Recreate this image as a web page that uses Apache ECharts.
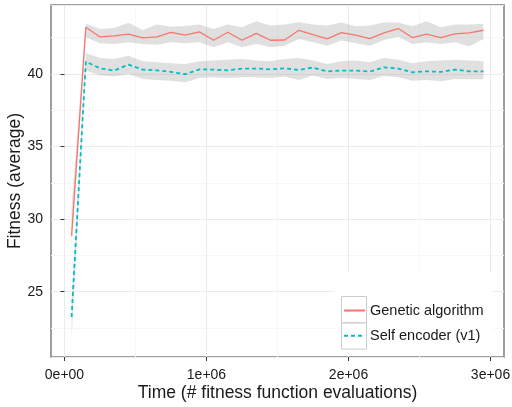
<!DOCTYPE html>
<html>
<head>
<meta charset="utf-8">
<script src="https://cdn.jsdelivr.net/npm/echarts@6/dist/echarts.min.js"></script>
<style>
	html, body { margin: 0; padding: 0; background: #fff; }
	#chart { width: 512px; height: 407px; }
</style>
</head>
<body>
<div id="chart"></div>
<script>
// evaluation counts (x)
var timePoints = [50000, 150000, 250000, 350000, 450000, 550000, 650000, 750000, 850000, 950000,
	1050000, 1150000, 1250000, 1350000, 1450000, 1550000, 1650000, 1750000, 1850000, 1950000,
	2050000, 2150000, 2250000, 2350000, 2450000, 2550000, 2650000, 2750000, 2850000, 2950000];

// Genetic algorithm
var gaMean = [28.85, 43.22, 42.55, 42.62, 42.74, 42.48, 42.55, 42.87, 42.67, 42.90,
	42.32, 42.87, 42.32, 42.80, 42.32, 42.34, 43.01, 42.71, 42.41, 42.85,
	42.67, 42.44, 42.83, 43.13, 42.51, 42.74, 42.51, 42.76, 42.83, 43.01];
var gaHigh = [30.80, 43.45, 43.10, 43.17, 43.52, 43.03, 43.40, 43.26, 43.31, 43.40,
	43.10, 43.40, 43.22, 43.63, 43.33, 43.40, 43.56, 43.40, 43.33, 43.54,
	43.29, 43.33, 43.54, 43.54, 43.29, 43.63, 43.22, 43.40, 43.40, 43.45];
var gaLow = [28.00, 42.53, 42.11, 42.07, 42.18, 42.07, 42.02, 42.18, 42.11, 42.18,
	41.84, 42.18, 41.84, 42.07, 41.84, 41.95, 42.41, 42.18, 41.95, 42.30,
	42.11, 41.95, 42.34, 42.57, 42.07, 42.18, 42.07, 42.18, 41.89, 42.41];

// Self encoder (v1)
var seMean = [23.26, 40.85, 40.39, 40.23, 40.64, 40.30, 40.25, 40.14, 39.98, 40.32,
	40.30, 40.25, 40.37, 40.37, 40.32, 40.39, 40.28, 40.44, 40.18, 40.23,
	40.23, 40.16, 40.46, 40.37, 40.11, 40.18, 40.14, 40.30, 40.18, 40.18];
var seHigh = [24.30, 41.43, 41.10, 41.03, 41.26, 40.87, 40.80, 40.74, 40.69, 40.87,
	40.92, 40.97, 41.03, 40.92, 40.87, 41.03, 41.10, 40.92, 40.69, 40.87,
	40.92, 40.80, 41.10, 40.97, 40.74, 40.87, 40.92, 40.97, 40.92, 40.87];
var seLow = [21.80, 40.23, 39.89, 39.82, 40.00, 39.66, 39.59, 39.54, 39.43, 39.72,
	39.77, 39.72, 39.77, 39.77, 39.72, 39.82, 39.59, 39.89, 39.66, 39.72,
	39.66, 39.59, 39.86, 39.77, 39.54, 39.59, 39.49, 39.66, 39.63, 39.63];

var xTicks = [0, 1000000, 2000000, 3000000];

var textColor = '#1a1a1a';
var fontFamily = '"Liberation Sans", Arial, sans-serif';

function pairs(ys){
	var out = [];
	for (var i = 0; i < timePoints.length; i++) {
		out.push([timePoints[i], ys[i]]);
	}
	return out;
}

// grey confidence band, drawn once as one polygon
function ribbon(low, high){
	var rows = [];
	for (var i = 0; i < timePoints.length; i++) {
		rows.push([timePoints[i], low[i], high[i]]);
	}
	return {
		type: 'custom',
		silent: true,
		z: 1,
		data: rows,
		encode: { x: 0, y: [1, 2] },
		renderItem: function(params, api){
			if (params.dataIndex !== 0) return;
			var pts = [];
			for (var i = 0; i < timePoints.length; i++) {
				pts.push(api.coord([timePoints[i], high[i]]));
			}
			for (var j = timePoints.length - 1; j >= 0; j--) {
				pts.push(api.coord([timePoints[j], low[j]]));
			}
			return {
				type: 'polygon',
				shape: { points: pts },
				style: { fill: 'rgba(153,153,153,0.3)' }
			};
		}
	};
}

function sci(v){
	if (v === 0) return '0e+00';
	return Math.round(v / 1e6) + 'e+06';
}

var chart = echarts.init(document.getElementById('chart'), null, { renderer: 'canvas' });

var option = {
	animation: false,
	backgroundColor: '#fff',
	textStyle: { fontFamily: fontFamily },
	grid: {
		left: 51, right: 8, top: 5, bottom: 50,
		outerBoundsMode: 'none',
		containLabel: false,
		show: true, borderColor: '#7f7f7f', borderWidth: 1.5, backgroundColor: '#fff'
	},
	xAxis: {
		type: 'value',
		min: -95000,
		max: 3095000,
		splitNumber: 3,
		name: 'Time (# fitness function evaluations)',
		nameLocation: 'middle',
		nameGap: 27,
		nameMoveOverlap: false,
		nameTextStyle: { fontSize: 17.5, color: textColor, fontFamily: fontFamily },
		axisLine: { show: false },
		axisTick: { show: true, length: 4, customValues: xTicks, lineStyle: { color: '#333', width: 1 } },
		axisLabel: { customValues: xTicks, formatter: sci, fontSize: 14, color: textColor, margin: 11, fontFamily: fontFamily },
		splitLine: { show: true, lineStyle: { color: '#ebebeb', width: 1 } },
		minorTick: { show: false, splitNumber: 2 },
		minorSplitLine: { show: true, lineStyle: { color: '#f7f7f7', width: 1 } }
	},
	yAxis: {
		type: 'value',
		min: 20.5,
		max: 44.75,
		splitNumber: 5,
		name: 'Fitness (average)',
		nameLocation: 'middle',
		nameGap: 27,
		nameMoveOverlap: false,
		nameTextStyle: { fontSize: 17.5, color: textColor, fontFamily: fontFamily },
		axisLine: { show: false },
		axisTick: { show: true, length: 4, lineStyle: { color: '#333', width: 1 } },
		axisLabel: { showMinLabel: false, showMaxLabel: false, fontSize: 14, color: textColor, margin: 8, fontFamily: fontFamily },
		splitLine: { show: true, lineStyle: { color: '#ebebeb', width: 1 } },
		minorTick: { show: false, splitNumber: 2 },
		minorSplitLine: { show: true, lineStyle: { color: '#f7f7f7', width: 1 } }
	},
	legend: {
		orient: 'vertical',
		left: 343,
		top: 300,
		padding: 0,
		itemGap: 4.3,
		itemWidth: 21,
		itemHeight: 26.3,
		itemStyle: { color: 'rgba(0,0,0,0)', borderWidth: 0 },
		textStyle: { fontSize: 14.5, color: textColor, fontFamily: fontFamily, padding: [0, 0, 0, 0] },
		data: ['Genetic algorithm', 'Self encoder (v1)']
	},
	graphic: [
		{ type: 'rect', z: 3, silent: true, shape: { x: 335, y: 273, width: 158, height: 83 }, style: { fill: '#fff' } },
		{ type: 'rect', z: 3, silent: true, shape: { x: 341.5, y: 296.5, width: 25, height: 26.3 }, style: { fill: 'none', stroke: '#cccccc', lineWidth: 1 } },
		{ type: 'rect', z: 3, silent: true, shape: { x: 341.5, y: 322.8, width: 25, height: 26.3 }, style: { fill: 'none', stroke: '#cccccc', lineWidth: 1 } }
	],
	series: [
		ribbon(gaLow, gaHigh),
		ribbon(seLow, seHigh),
		{
			name: 'Genetic algorithm',
			type: 'line',
			z: 2,
			data: pairs(gaMean),
			symbol: 'none',
			lineStyle: { color: '#F8766D', width: 1.3 },
			itemStyle: { color: '#F8766D' }
		},
		{
			name: 'Self encoder (v1)',
			type: 'line',
			z: 2,
			data: pairs(seMean),
			symbol: 'none',
			lineStyle: { color: '#00BFC4', width: 1.8, type: [4, 3] },
			itemStyle: { color: '#00BFC4' }
		}
	]
};

chart.setOption(option);
</script>
</body>
</html>
